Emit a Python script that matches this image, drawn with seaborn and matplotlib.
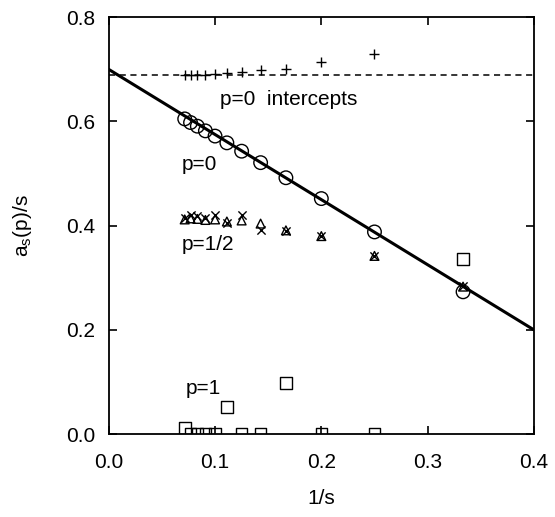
import numpy as np
import pandas as pd
import matplotlib
matplotlib.use("Agg")
import matplotlib.pyplot as plt
import seaborn as sns

# data
inv_s = [1/3, 1/4, 1/5, 1/6, 1/7, 1/8, 1/9, 1/10, 1/11, 1/12, 1/13, 1/14]
p0 = [0.273, 0.388, 0.452, 0.492, 0.521, 0.543, 0.559, 0.572, 0.582, 0.591, 0.598, 0.605]
p_half_a = [0.283, 0.342, 0.380, 0.391, 0.404, 0.410, 0.408, 0.412, 0.411, 0.413, 0.414, 0.412]
p_half_b = [0.285, 0.341, 0.380, 0.390, 0.392, 0.420, 0.405, 0.420, 0.414, 0.418, 0.421, 0.414]
p1 = [0.336, 0.0, 0.0, 0.098, 0.0, 0.0, 0.052, 0.0, 0.0, 0.0, 0.0, 0.011]
icpt_x = [1/4, 1/5, 1/6, 1/7, 1/8, 1/9, 1/10, 1/11, 1/12, 1/13, 1/14]
icpt_y = [0.729, 0.714, 0.700, 0.698, 0.695, 0.693, 0.692, 0.690, 0.690, 0.690, 0.690]
fit_x = [0.0, 0.4]
fit_y = [0.700, 0.200]
intercept_level = 0.689
x_ticks = [0.0, 0.1, 0.2, 0.3, 0.4]
y_ticks = [0.0, 0.2, 0.4, 0.6, 0.8]
x_ticklabels = ["0.0", "0.1", "0.2", "0.3", "0.4"]
y_ticklabels = ["0.0", "0.2", "0.4", "0.6", "0.8"]

sns.set_style("ticks")
plt.rcParams['font.family'] = ['Liberation Sans', 'DejaVu Sans']
for k in ['text.color', 'axes.labelcolor', 'xtick.color', 'ytick.color', 'axes.edgecolor']:
    plt.rcParams[k] = 'black'

fig = plt.figure(figsize=(5.55, 5.17), dpi=100)
ax = fig.add_axes([0.196, 0.1605, 0.766, 0.806])

sns.lineplot(x=fit_x, y=fit_y, ax=ax, color="black", linewidth=2.2)
ax.axhline(intercept_level, color="black", linestyle=(0, (4, 3)), linewidth=1.1)

sns.scatterplot(x=inv_s, y=p0, ax=ax, marker="o", s=95, facecolors="none",
                edgecolor="black", linewidth=1.0)
sns.scatterplot(x=inv_s, y=p_half_a, ax=ax, marker="^", s=40, facecolors="none",
                edgecolor="black", linewidth=1.0)
sns.scatterplot(x=inv_s, y=p_half_b, ax=ax, marker="x", s=35, color="black", linewidth=1.0)
sns.scatterplot(x=inv_s, y=p1, ax=ax, marker="s", s=70, facecolors="none",
                edgecolor="black", linewidth=1.0)
sns.scatterplot(x=icpt_x, y=icpt_y, ax=ax, marker="+", s=60, color="black", linewidth=1.0)

fs = 15
ax.text(0.105, 0.642, "p=0  intercepts", fontsize=fs, va="center", ha="left")
ax.text(0.069, 0.517, "p=0", fontsize=fs, va="center", ha="left")
ax.text(0.069, 0.363, "p=1/2", fontsize=fs, va="center", ha="left")
ax.text(0.072, 0.088, "p=1", fontsize=fs, va="center", ha="left")

ax.set_xlim(0, 0.4)
ax.set_ylim(0, 0.8)
ax.set_xticks(x_ticks)
ax.set_yticks(y_ticks)
ax.set_xticklabels(x_ticklabels)
ax.set_yticklabels(y_ticklabels)
ax.tick_params(direction="in", length=6, width=1.2, top=True, right=True,
               labelsize=fs)
ax.tick_params(axis="x", pad=14)
ax.tick_params(axis="y", pad=10)
for sp in ax.spines.values():
    sp.set_visible(True)
    sp.set_linewidth(1.3)
    sp.set_color("black")

ax.set_xlabel("1/s", fontsize=fs)
ax.set_ylabel(r"a$_\mathregular{s}$(p)/s", fontsize=fs)
ax.xaxis.set_label_coords(0.5, -0.132)
ax.yaxis.set_label_coords(-0.176, 0.5)

fig.savefig("out.png", dpi=100)
